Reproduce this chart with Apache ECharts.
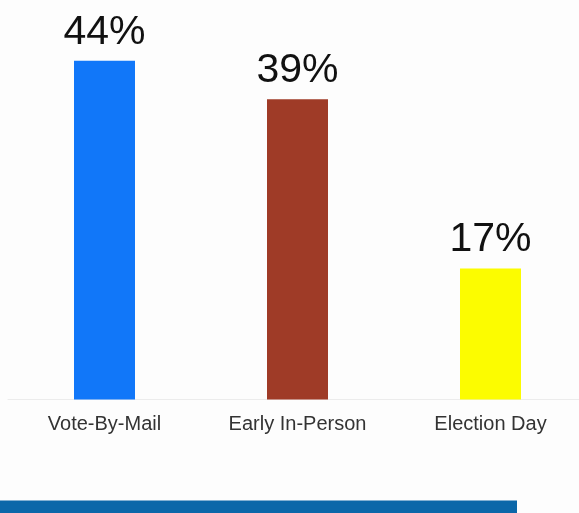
<!DOCTYPE html>
<html><head><meta charset="utf-8">
<script src="https://cdn.jsdelivr.net/npm/echarts@6/dist/echarts.min.js"></script>
<style>html,body{margin:0;padding:0;background:#fdfdfd;}#c{width:579px;height:513px;}</style>
</head><body><div id="c"></div>
<script>
const categories = ['Vote-By-Mail', 'Early In-Person', 'Election Day'];
const values = [44, 39, 17];
const colors = ['#1177f9', '#9f3b27', '#fcfc00'];

const FONT = "'Liberation Sans', Arial, sans-serif";
const chart = echarts.init(document.getElementById('c'), null, {renderer: 'canvas'});
chart.setOption({
  backgroundColor: '#fdfdfd',
  animation: false,
  grid: {left: 8, width: 579, top: 14.5, bottom: 113.5, containLabel: false, outerBoundsMode: 'none'},
  xAxis: {
    type: 'category', data: categories,
    axisLine: {lineStyle: {color: '#ececec', width: 1}},
    axisTick: {show: false},
    axisLabel: {color: '#333', fontSize: 20, fontFamily: FONT, margin: 15}
  },
  yAxis: {type: 'value', min: 0, max: 50, show: false, splitLine: {show: false}},
  series: [{
    type: 'bar', barWidth: 61,
    data: values.map((v, i) => ({value: v, itemStyle: {color: colors[i]}})),
    label: {show: true, position: 'top', distance: 8, formatter: '{c}%', color: '#111', fontSize: 41, fontFamily: FONT}
  }],
  graphic: [{type: 'rect', shape: {x: 0, y: 500.5, width: 517, height: 13}, style: {fill: '#0b67a9'}}]
});
</script></body></html>
